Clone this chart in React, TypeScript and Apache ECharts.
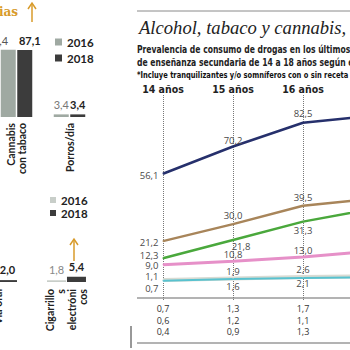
import React, { useEffect, useRef } from "react";
import * as echarts from "echarts";

// ---------- data ----------
const ages = ["14 años", "15 años", "16 años", "17 años", "18 años"];
const alcohol = [56.1, 70.2, 82.5, 86.2, 88.0];
const tabaco = [21.2, 30.0, 39.5, 43.2, 47.0];
const cannabis = [12.3, 21.8, 31.3, 38.0, 41.5];
const hipnosedantes = [9.0, 10.8, 13.0, 16.0, 17.5];
const cocaina = [1.1, 1.9, 2.6, 3.0, 3.6];
const extasis = [0.7, 1.6, 2.1, 2.4, 2.9];
const tableRow1 = [0.7, 1.3, 1.7, 2.0, 2.4];
const tableRow2 = [0.6, 1.2, 1.1, 1.4, 1.6];
const tableRow3 = [0.4, 0.9, 1.3, 1.5, 1.8];

const topCats = ["Cannabis\ncon tabaco", "Porros/día"];
const top2016 = [87.4, 3.4];
const top2018 = [87.1, 3.4];
const botCats = ["Vía oral", "Cigarrillo\ns\nelectróni\ncos"];
const bot2016 = [1.3, 1.8];
const bot2018 = [2.0, 5.4];

const titleText = "Alcohol, tabaco y cannabis,";
const subtitle1 = "Prevalencia de consumo de drogas en los últimos 12 meses";
const subtitle2 = "de enseñanza secundaria de 14 a 18 años según edad";
const subtitle3 = "*Incluye tranquilizantes y/o somníferos con o sin receta";

const fmt = (v: number) => v.toFixed(1).replace(".", ",");

// The infographic is a crop of a wider page: the chart canvas extends past the
// 350px window on both sides and the wrapper clips it.
const OX = 60; // canvas pixels hidden on the left
const EXTRA_R = 93; // canvas pixels hidden on the right
const W = 350 + OX + EXTRA_R;
const H = 350;

const NARROW = '"Liberation Sans Narrow", "DejaVu Sans Condensed", "Roboto", sans-serif';
const GOTHIC = 'Lato, "DejaVu Sans", sans-serif';
const ORANGE = "#d89b2b";

type LblSpec = { p: string; d?: number; o?: number[] };

const lineDefs: { name: string; data: number[]; color: string; width: number; labels: LblSpec[] }[] = [
  {
    name: "Alcohol", data: alcohol, color: "#26306c", width: 2.5,
    labels: [{ p: "left", o: [0, 2] }, { p: "top", d: 1 }, { p: "top", d: 4 }, { p: "top", d: 4 }, { p: "top", d: 4 }],
  },
  {
    name: "Tabaco", data: tabaco, color: "#a8855a", width: 2.5,
    labels: [{ p: "left", o: [0, 1] }, { p: "top", d: 3 }, { p: "top", d: 3 }, { p: "top", d: 3 }, { p: "top", d: 3 }],
  },
  {
    name: "Cannabis", data: cannabis, color: "#4aa83c", width: 2.5,
    labels: [{ p: "left", o: [0, -3] }, { p: "bottom", d: 1, o: [8, 0] }, { p: "bottom", d: 3 }, { p: "bottom", d: 3 }, { p: "bottom", d: 3 }],
  },
  {
    name: "Hipnosedantes*", data: hipnosedantes, color: "#e690c8", width: 3,
    labels: [{ p: "left", o: [0, 1] }, { p: "top", d: 1 }, { p: "top", d: 1 }, { p: "top", d: 1 }, { p: "top", d: 1 }],
  },
  {
    name: "Cocaína", data: cocaina, color: "#d9dbd3", width: 4,
    labels: [{ p: "left", o: [0, -3] }, { p: "top", d: 1 }, { p: "top", d: 2 }, { p: "top", d: 2 }, { p: "top", d: 2 }],
  },
  {
    name: "Éxtasis", data: extasis, color: "#58c2cf", width: 2,
    labels: [{ p: "left", o: [0, 8] }, { p: "bottom", d: 2 }, { p: "bottom", d: 0 }, { p: "bottom", d: 0 }, { p: "bottom", d: 0 }],
  },
];

export default function App() {
  const ref = useRef<HTMLDivElement>(null);

  useEffect(() => {
    if (!ref.current) return;
    const chart = echarts.init(ref.current, undefined, { renderer: "svg" });
    const X = (x: number) => x + OX;

    const lineLabelStyle = {
      show: true,
      fontFamily: '"Open Sans", "Noto Sans", sans-serif',
      fontSize: 9.5,
      color: "#4a4a4a",
      formatter: (p: any) => fmt(p.value),
    };

    const lineSeries = lineDefs.map((l) => ({
      type: "line",
      name: l.name,
      xAxisIndex: 2,
      yAxisIndex: 2,
      symbol: "circle",
      symbolSize: 1,
      showSymbol: true,
      lineStyle: { color: l.color, width: l.width },
      itemStyle: { color: l.color },
      label: lineLabelStyle,
      data: l.data.map((v, i) => ({
        value: v,
        label: {
          position: l.labels[i].p,
          distance: l.labels[i].d ?? 4,
          offset: l.labels[i].o ?? [0, 0],
        },
      })),
    }));

    const tableAxis = (row: number[], offset: number) => ({
      type: "category",
      gridIndex: 2,
      data: ages,
      position: "bottom",
      offset,
      boundaryGap: false,
      axisLine: { show: false },
      axisTick: { show: false },
      splitLine: { show: false },
      axisLabel: {
        interval: 0,
        margin: 2,
        fontFamily: '"Open Sans", "Noto Sans", sans-serif',
        fontSize: 9,
        lineHeight: 10,
        color: "#333",
        formatter: (_v: string, i: number) => fmt(row[i]),
      },
    });

    const barAxisLabel = {
      interval: 0,
      rotate: 90,
      fontFamily: GOTHIC,
      fontWeight: "bold",
      fontSize: 10.5,
      lineHeight: 11,
      color: "#222",
    };

    const arrow = (x: number, y1: number, y2: number) => [
      { type: "line", shape: { x1: X(x), y1: y2, x2: X(x), y2: y1 + 1 }, style: { stroke: ORANGE, lineWidth: 1.5 } },
      {
        type: "polyline",
        shape: { points: [[X(x) - 4, y1 + 6], [X(x), y1], [X(x) + 4, y1 + 6]] },
        style: { stroke: ORANGE, lineWidth: 1.5, fill: null },
      },
    ];

    const rule = (x1: number, y1: number, x2: number, y2: number, stroke: string, lineWidth: number) => ({
      type: "line",
      shape: { x1: X(x1), y1, x2: X(x2), y2 },
      style: { stroke, lineWidth },
    });

    chart.setOption({
      animation: false,
      backgroundColor: "#ffffff",
      grid: [
        { left: X(-10), right: W - X(96), top: 40, bottom: 233, outerBoundsMode: "none", containLabel: false },
        { left: X(-37), right: W - X(101), top: 187, bottom: 68, outerBoundsMode: "none", containLabel: false },
        { left: X(163), right: 0, top: 95, bottom: 50, outerBoundsMode: "none", containLabel: false },
      ],
      xAxis: [
        {
          type: "category", gridIndex: 0, data: topCats,
          axisLine: { show: false }, axisTick: { show: false },
          axisLabel: { ...barAxisLabel, margin: 6 },
        },
        {
          type: "category", gridIndex: 1, data: botCats,
          axisLine: { show: false }, axisTick: { show: false },
          axisLabel: { ...barAxisLabel, margin: 7 },
        },
        {
          type: "category", gridIndex: 2, data: ages, position: "top",
          boundaryGap: false,
          axisLine: { show: false }, axisTick: { show: false },
          splitLine: { show: true, interval: 0, lineStyle: { type: "dotted", color: "#777", width: 1 } },
          axisLabel: {
            interval: 0, margin: 1,
            fontFamily: NARROW, fontWeight: "bold", fontSize: 10.5, color: "#222",
          },
        },
        tableAxis(tableRow1, 1),
        tableAxis(tableRow2, 13),
        tableAxis(tableRow3, 24),
      ],
      yAxis: [
        { type: "value", gridIndex: 0, min: 0, max: 100, show: false },
        { type: "value", gridIndex: 1, min: 0, max: 100, show: false },
        { type: "value", gridIndex: 2, min: -9.3, max: 96.9, show: false },
      ],
      legend: [
        {
          data: ["2016", "2018"], orient: "vertical", left: X(55), top: 36, padding: 0,
          icon: "rect", itemWidth: 7, itemHeight: 7, itemGap: 4, selectedMode: false,
          textStyle: { fontFamily: GOTHIC, fontWeight: "bold", fontSize: 11.5, lineHeight: 12, color: "#222" },
        },
        {
          data: ["2016 ", "2018 "], orient: "vertical", left: X(50), top: 194, padding: 0,
          icon: "rect", itemWidth: 6, itemHeight: 6, itemGap: 1, selectedMode: false,
          formatter: (n: string) => n.trim(),
          textStyle: { fontFamily: GOTHIC, fontWeight: "bold", fontSize: 11.5, lineHeight: 12, color: "#222" },
        },
      ],
      series: [
        {
          type: "bar", name: "2016", xAxisIndex: 0, yAxisIndex: 0,
          barWidth: 15, barGap: "10%",
          itemStyle: { color: "#9fa9a2" },
          label: {
            show: true, position: "top", distance: 4,
            fontFamily: GOTHIC, fontSize: 11, color: "#777",
            formatter: (p: any) => fmt(p.value),
          },
          data: top2016.map((v, i) => ({ value: v, label: i === 0 ? { offset: [-11, 0], color: "#555" } : {} })),
        },
        {
          type: "bar", name: "2018", xAxisIndex: 0, yAxisIndex: 0,
          barWidth: 15, barGap: "10%",
          itemStyle: { color: "#3c3c3c" },
          label: {
            show: true, position: "top", distance: 4,
            fontFamily: GOTHIC, fontWeight: "bold", fontSize: 11, color: "#222",
            formatter: (p: any) => fmt(p.value),
          },
          data: top2018.map((v, i) => ({ value: v, label: i === 0 ? { offset: [5, 0] } : {} })),
        },
        {
          type: "bar", name: "2016 ", xAxisIndex: 1, yAxisIndex: 1,
          barWidth: 19, barGap: "5%",
          itemStyle: { color: "#c8cec9" },
          label: {
            show: true, position: "top", distance: 5,
            fontFamily: GOTHIC, fontSize: 11, color: "#888",
            formatter: (p: any) => fmt(p.value),
          },
          data: bot2016,
        },
        {
          type: "bar", name: "2018 ", xAxisIndex: 1, yAxisIndex: 1,
          barWidth: 19, barGap: "5%",
          itemStyle: { color: "#3c3c3c" },
          label: {
            show: true, position: "top", distance: 5,
            fontFamily: GOTHIC, fontWeight: "bold", fontSize: 11, color: "#222",
            formatter: (p: any) => fmt(p.value),
          },
          data: bot2018,
        },
        ...lineSeries,
      ],
      graphic: [
        {
          type: "text", x: X(-1), y: 12,
          style: { text: "ias", fill: ORANGE, fontFamily: '"DejaVu Serif", serif', fontWeight: "bold", fontSize: 12, verticalAlign: "middle" },
        },
        ...arrow(32, 3, 22),
        ...arrow(74, 239, 261),
        rule(137, 11, 350, 11, "#8a8a8a", 1),
        {
          type: "text", x: X(139), y: 27, scaleX: 0.955,
          style: { text: titleText, fill: "#222", fontFamily: '"Liberation Serif", "DejaVu Serif", serif', fontStyle: "italic", fontSize: 19.5, verticalAlign: "middle" },
        },
        {
          type: "text", x: X(137), y: 49, scaleX: 0.85,
          style: { text: subtitle1, fill: "#222", fontFamily: NARROW, fontWeight: "bold", fontSize: 10, verticalAlign: "middle" },
        },
        {
          type: "text", x: X(137), y: 62, scaleX: 0.85,
          style: { text: subtitle2, fill: "#222", fontFamily: NARROW, fontWeight: "bold", fontSize: 10, verticalAlign: "middle" },
        },
        {
          type: "text", x: X(137), y: 75, scaleX: 0.83,
          style: { text: subtitle3, fill: "#111", fontFamily: NARROW, fontWeight: "bold", fontSize: 9, verticalAlign: "middle" },
        },
        rule(137, 298, 350, 298, "#9a9a9a", 1.5),
        rule(137, 343, 350, 343, "#9a9a9a", 1.5),
        rule(131, 326, 131, 348, "#333", 1),
      ],
    });

    return () => chart.dispose();
  }, []);

  return (
    <div style={{ position: "absolute", left: 0, top: 0, width: 350, height: H, overflow: "hidden", background: "#fff" }}>
      <div ref={ref} style={{ position: "absolute", left: -OX, top: 0, width: W, height: H }} />
    </div>
  );
}
